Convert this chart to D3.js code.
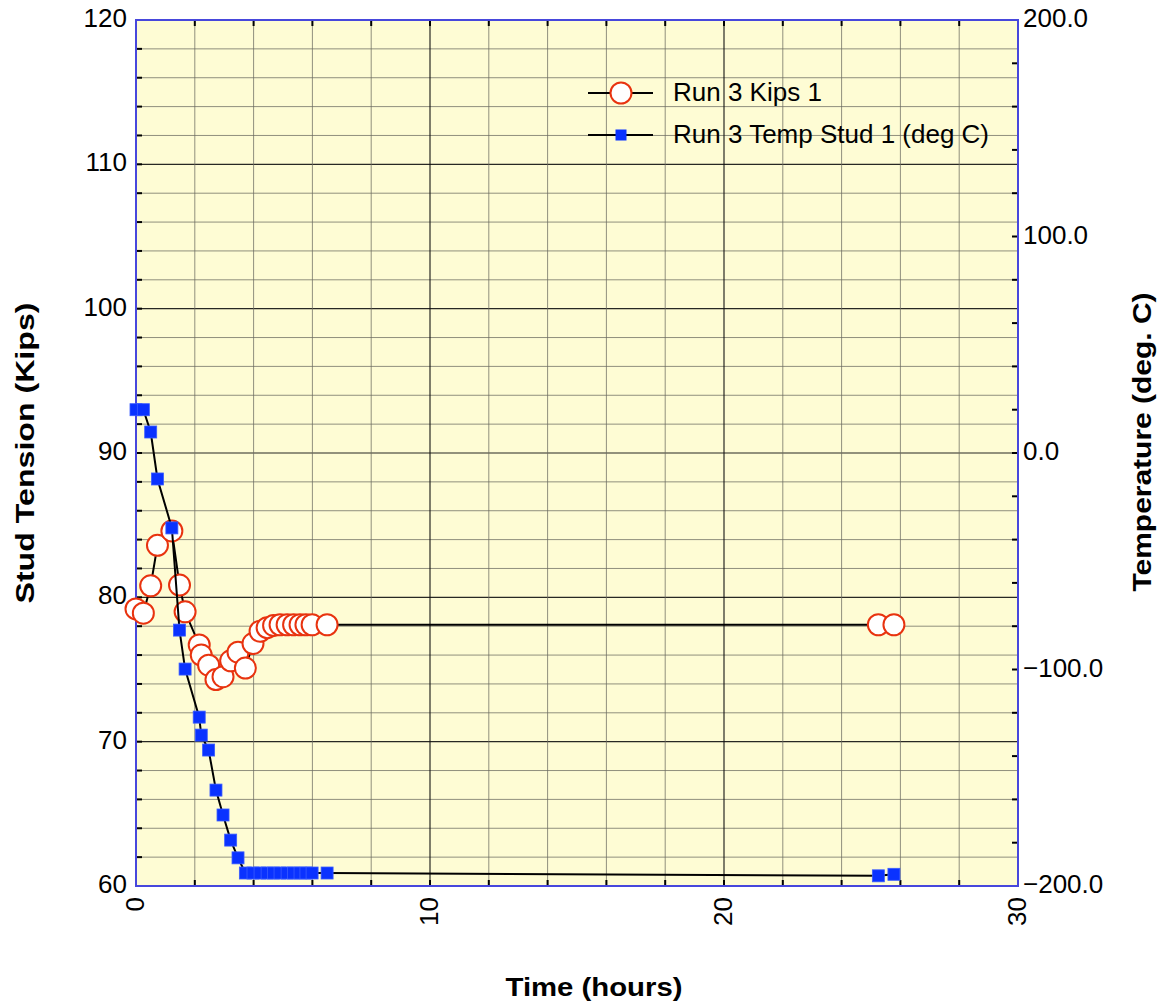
<!DOCTYPE html>
<html><head><meta charset="utf-8">
<script src="https://cdn.jsdelivr.net/npm/d3@7/dist/d3.min.js"></script>
<style>body{margin:0;background:#fff}svg{display:block;font-family:"Liberation Sans",Arial,Helvetica,sans-serif}</style>
</head><body>
<script>
const timeHours = [0, 0.25, 0.5, 0.73, 1.22, 1.48, 1.67, 2.15, 2.22, 2.47, 2.72, 2.96, 3.22, 3.47, 3.72, 3.98, 4.22, 4.46, 4.68, 4.9, 5.14, 5.36, 5.58, 5.78, 5.99, 6.5, 25.25, 25.78];
const kips = [79.2, 78.9, 80.8, 83.6, 84.6, 80.85, 79.0, 76.7, 76.0, 75.3, 74.3, 74.5, 75.6, 76.2, 75.1, 76.8, 77.65, 77.9, 78.05, 78.1, 78.1, 78.1, 78.1, 78.1, 78.1, 78.1, 78.1, 78.1];
const tempC = [20, 20, 9.7, -12, -34.6, -81.8, -99.8, -122, -130.3, -137.2, -155.7, -167.2, -178.8, -187, -194, -194, -194, -194, -194, -194, -194, -194, -194, -194, -194, -194, -195.3, -194.6];
const xTicks = [0, 10, 20, 30];
const yLeftTicks = [60, 70, 80, 90, 100, 110, 120];
const yRightTicks = [-200, -100, 0, 100, 200];
const seriesNames = ["Run 3 Kips 1", "Run 3 Temp Stud 1 (deg C)"];

const W = 1162, H = 1006;
const L = 136, R = 1018, T = 20, B = 886;
const svg = d3.select("body").append("svg").attr("width", W).attr("height", H);
const x = d3.scaleLinear().domain([0, 30]).range([L, R]);
const yL = d3.scaleLinear().domain([60, 120]).range([B, T]);
const yR = d3.scaleLinear().domain([-200, 200]).range([B, T]);

svg.append("rect").attr("x", L).attr("y", T).attr("width", R - L).attr("height", B - T).attr("fill", "#fefcd4");

// grid
const g = svg.append("g");
d3.range(62, 120, 2).forEach(v => {
  const major = v % 10 === 0;
  g.append("line").attr("x1", L).attr("x2", R).attr("y1", yL(v)).attr("y2", yL(v))
    .attr("stroke", major ? "#111" : "#6b6b60").attr("stroke-width", major ? 1.2 : 1).attr("stroke-opacity", major ? 0.9 : 0.75);
});
d3.range(2, 30, 2).forEach(v => {
  const major = v % 10 === 0;
  g.append("line").attr("y1", T).attr("y2", B).attr("x1", x(v)).attr("x2", x(v))
    .attr("stroke", major ? "#111" : "#6b6b60").attr("stroke-width", major ? 1.2 : 1).attr("stroke-opacity", major ? 0.9 : 0.75);
});

// ticks
d3.range(62, 120, 2).forEach(v => {
  svg.append("line").attr("x1", L).attr("x2", L + 6).attr("y1", yL(v)).attr("y2", yL(v)).attr("stroke", "#000").attr("stroke-width", 2);
});
d3.range(2, 30, 2).forEach(v => {
  svg.append("line").attr("x1", x(v)).attr("x2", x(v)).attr("y1", B).attr("y2", B - 6).attr("stroke", "#000").attr("stroke-width", 2);
  svg.append("line").attr("x1", x(v)).attr("x2", x(v)).attr("y1", T).attr("y2", T + 6).attr("stroke", "#000").attr("stroke-width", 2);
});
d3.range(-180, 200, 20).forEach(v => {
  svg.append("line").attr("x1", R).attr("x2", R - 6).attr("y1", yR(v)).attr("y2", yR(v)).attr("stroke", "#000").attr("stroke-width", 2);
});

// frame
svg.append("rect").attr("x", L).attr("y", T).attr("width", R - L).attr("height", B - T)
  .attr("fill", "none").attr("stroke", "#4747dc").attr("stroke-width", 2);

// tick labels
const FS = 26;
svg.append("g").selectAll("text").data(yLeftTicks).join("text")
  .attr("x", L - 9).attr("y", d => yL(d) - 2).attr("text-anchor", "end").attr("dominant-baseline", "central")
  .attr("font-size", FS).text(d => d);
svg.append("g").selectAll("text").data(yRightTicks).join("text")
  .attr("x", R + 5).attr("y", d => yR(d) - 2).attr("text-anchor", "start").attr("dominant-baseline", "central")
  .attr("font-size", FS).text(d => (d < 0 ? "\u2212" + Math.abs(d).toFixed(1) : d.toFixed(1)));
svg.append("g").selectAll("text").data(xTicks).join("text")
  .attr("transform", d => `translate(${x(d) - 1},${B + 11}) rotate(-90)`)
  .attr("text-anchor", "end").attr("dominant-baseline", "central").attr("font-size", FS).text(d => d);

// axis titles
function title(txt, tx, ty, rot, len) {
  svg.append("text").attr("transform", `translate(${tx},${ty}) rotate(${rot})`).attr("text-anchor", "middle")
    .attr("dominant-baseline", "central").attr("font-size", 26).attr("font-weight", "bold")
    .attr("textLength", len).attr("lengthAdjust", "spacingAndGlyphs").text(txt);
}
title("Stud Tension (Kips)", 25, 453, -90, 301);
title("Temperature (deg. C)", 1142, 442, -90, 299);
title("Time (hours)", 594, 987, 0, 177);

// series
const kData = timeHours.map((t, i) => [t, kips[i]]);
const tData = timeHours.map((t, i) => [t, tempC[i]]);
svg.append("path").attr("d", d3.line().x(d => x(d[0])).y(d => yL(d[1]))(kData))
  .attr("fill", "none").attr("stroke", "#000").attr("stroke-width", 2);
svg.append("g").selectAll("circle").data(kData).join("circle")
  .attr("cx", d => x(d[0])).attr("cy", d => yL(d[1])).attr("r", 10.5)
  .attr("fill", "#fff").attr("stroke", "#e8330f").attr("stroke-width", 2);
svg.append("path").attr("d", d3.line().x(d => x(d[0])).y(d => yR(d[1]))(tData))
  .attr("fill", "none").attr("stroke", "#000").attr("stroke-width", 2);
const sq = 12;
svg.append("g").selectAll("rect").data(tData).join("rect")
  .attr("x", d => x(d[0]) - sq / 2).attr("y", d => yR(d[1]) - sq / 2).attr("width", sq).attr("height", sq)
  .attr("fill", "#0a32ff").attr("stroke", "#3a5cff").attr("stroke-width", 0.8);

// legend
const lg = svg.append("g");
[93, 135].forEach((yy, i) => {
  lg.append("line").attr("x1", 588).attr("x2", 653).attr("y1", yy).attr("y2", yy).attr("stroke", "#000").attr("stroke-width", 2);
  if (i === 0) lg.append("circle").attr("cx", 621).attr("cy", yy).attr("r", 10.5).attr("fill", "#fff").attr("stroke", "#e8330f").attr("stroke-width", 2);
  else lg.append("rect").attr("x", 621 - 5.5).attr("y", yy - 5.5).attr("width", 11).attr("height", 11).attr("fill", "#0a32ff");
  lg.append("text").attr("x", 673).attr("y", yy - 1).attr("dominant-baseline", "central").attr("font-size", FS).text(seriesNames[i]);
});
</script>
</body></html>
